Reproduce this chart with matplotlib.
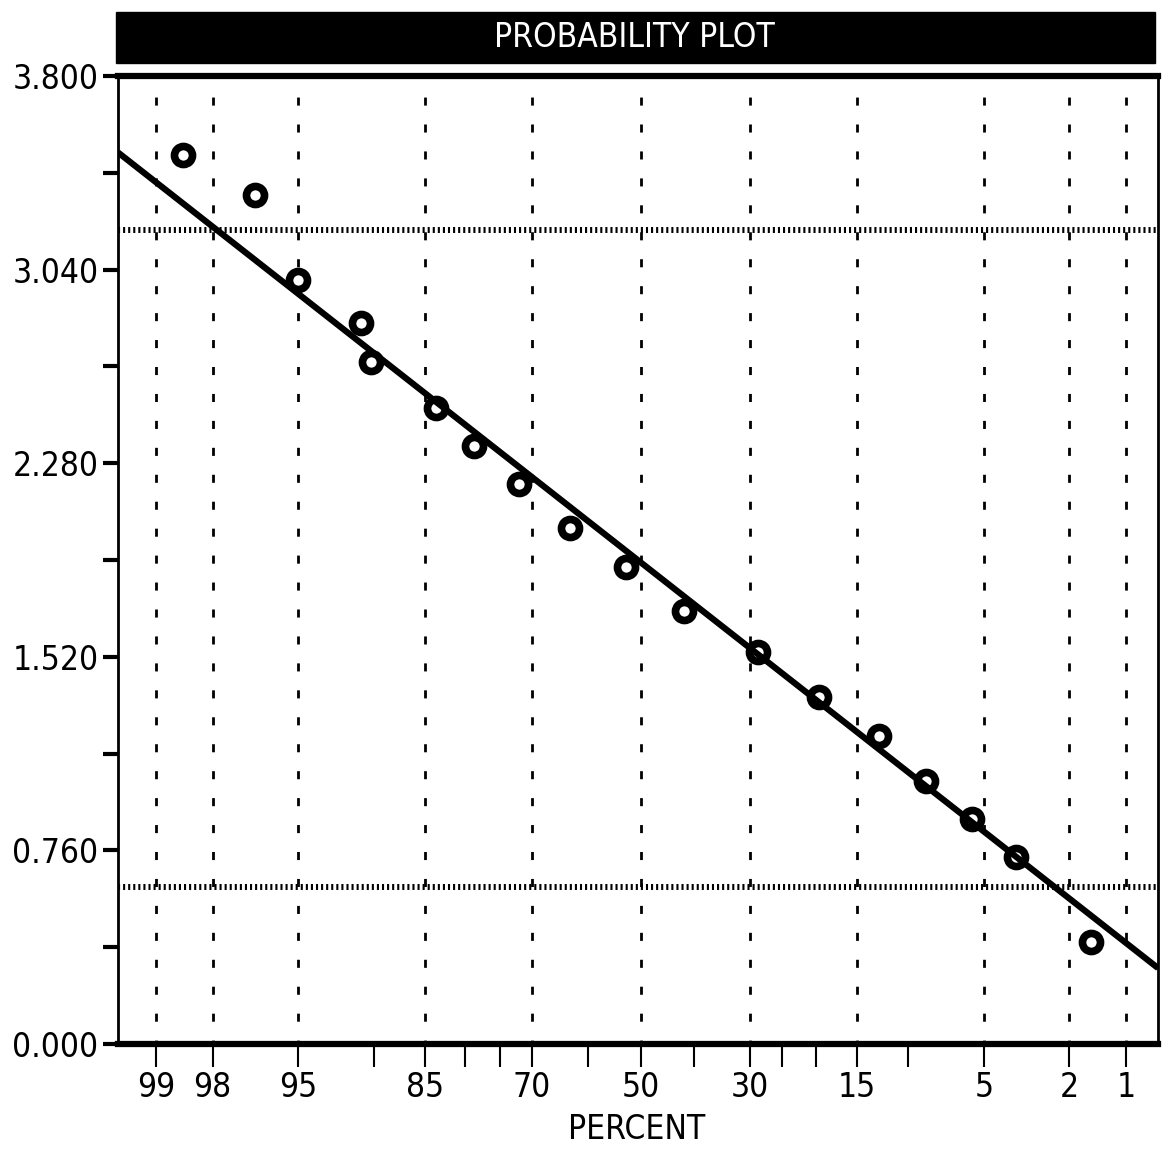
"""
Probability plot (normal paper), recreated with matplotlib.
"""

from statistics import NormalDist
import numpy as np
import matplotlib
matplotlib.use('Agg')
import matplotlib.pyplot as plt
from matplotlib.patches import Rectangle

# --- data -----------------------------------------------------------------
# exceedance percent of each point, and its value
pct_points = [98.6, 96.8, 95.0, 91.0, 90.2, 83.7, 78.8, 72.1, 63.3,
              52.9, 41.8, 28.7, 19.7, 12.7, 8.6, 5.6, 3.6, 1.55]
val_points = [3.490, 3.333, 3.000, 2.831, 2.678, 2.497, 2.348, 2.199, 2.026,
              1.873, 1.700, 1.539, 1.362, 1.209, 1.032, 0.883, 0.734, 0.400]

# fitted line: value at 50 % and drop per standard deviation
line_mean = 1.89
line_sd = 0.642

# horizontal limit lines
limits = [3.196, 0.616]

pct_major = [99, 98, 95, 85, 70, 50, 30, 15, 5, 2, 1]
pct_minor = [90, 80, 75, 60, 40, 25, 20, 10]
y_major = [0.0, 0.76, 1.52, 2.28, 3.04, 3.80]
y_minor = [0.38, 1.14, 1.90, 2.66, 3.42]

police = dict(family='DejaVu Sans', stretch='condensed')


def z_de(pct):
    """percent exceedance -> position on the normal-probability axis"""
    return NormalDist().inv_cdf(1 - float(pct) / 100.0)


z_de = np.vectorize(z_de)

fig = plt.figure(figsize=(11.62, 11.50), dpi=100)
ax = fig.add_axes([0.1015, 0.0922, 0.8951, 0.8417])

ax.set_xlim(-2.508, 2.48)
ax.set_ylim(0, 3.8)

# dotted vertical grid at labelled percents
for p in pct_major:
    ax.axvline(z_de(p), color='black', lw=2.0, linestyle=(1.5, (2.9, 6.8)),
               dash_capstyle='butt', zorder=1)

# dense dotted limit lines
for lim in limits:
    ax.axhline(lim, color='black', lw=4.3, linestyle=(0, (0.35, 0.5)),
               dash_capstyle='butt', zorder=1)

# fitted line (high percent exceedance -> large values)
zl = np.array(ax.get_xlim())
ax.plot(zl, line_mean - line_sd * zl, color='black', lw=4.5, zorder=2,
        solid_capstyle='butt')

# points
ax.plot(z_de(pct_points), val_points, linestyle='none', marker='o', ms=13,
        mfc='none', mec='black', mew=5.5, zorder=3)

# ticks
ax.set_xticks(z_de(pct_major))
ax.set_xticklabels([str(p) for p in pct_major])
ax.set_xticks(z_de(pct_minor), minor=True)
ax.set_yticks(y_major)
ax.set_yticklabels([f'{v:.3f}' for v in y_major])
ax.set_yticks(y_minor, minor=True)

ax.tick_params(axis='x', which='both', direction='out', length=16.5, width=1.5,
               pad=3)
ax.tick_params(axis='y', which='both', direction='out', length=11, width=3,
               pad=3)
for lab in ax.get_xticklabels() + ax.get_yticklabels():
    lab.set_fontproperties(dict(police, size=24))

ax.spines['top'].set_linewidth(4.5)
ax.spines['bottom'].set_linewidth(4.5)
ax.spines['left'].set_linewidth(2)
ax.spines['right'].set_linewidth(2)

# black title bar
fig.patches.append(Rectangle((0.0998, 0.9452), 0.8942, 0.0443,
                             transform=fig.transFigure, color='black'))
fig.text(0.5456, 0.9678, 'PROBABILITY PLOT', color='white', ha='center',
         va='center', fontsize=24, **police)

fig.text(0.548, 0.0174, 'PERCENT', ha='center', va='center', fontsize=24,
         **police)

fig.savefig('out.png', dpi=100)
